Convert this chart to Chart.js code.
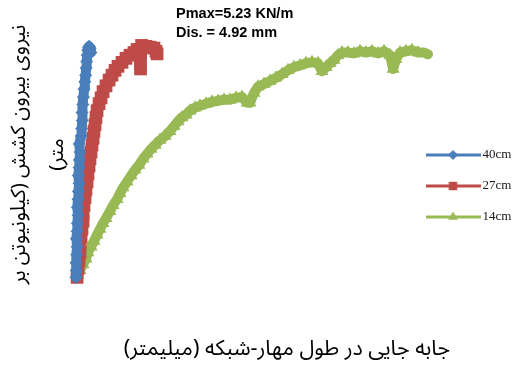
<!DOCTYPE html>
<html>
<head>
<meta charset="utf-8">
<script src="https://cdn.jsdelivr.net/npm/chart.js@4/dist/chart.umd.min.js"></script>
<style>
  html, body { margin: 0; padding: 0; background: #ffffff; }
  #wrap { width: 515px; height: 367px; }
</style>
</head>
<body>
<div id="wrap"><canvas id="c" width="515" height="367"></canvas></div>
<script>
// Pull-out test: displacement (mm) vs pull-out force (kN/m) for three anchorage lengths
const seriesNames = ['40cm', '27cm', '14cm'];

const disp40 = [0.00, 0.02, 0.00, 0.05, 0.08, 0.03, 0.08, 0.10, 0.15, 0.10, 0.15, 0.18, 0.23, 0.17, 0.23, 0.25, 0.30, 0.24, 0.38, 0.42, 0.47, 0.45, 0.52, 0.56, 0.60, 0.66, 0.72, 0.76, 0.80, 0.84, 0.88, 0.93, 0.98, 1.06, 1.12];
const load40 = [0.01, 0.17, 0.34, 0.52, 0.70, 0.88, 1.05, 1.23, 1.41, 1.59, 1.77, 1.94, 2.12, 2.30, 2.48, 2.65, 2.83, 3.01, 3.19, 3.36, 3.54, 3.72, 3.90, 4.07, 4.25, 4.41, 4.56, 4.72, 4.87, 5.01, 5.12, 5.18, 5.21, 5.16, 5.07];

const disp27 = [0.08, 0.15, 0.23, 0.30, 0.30, 0.38, 0.45, 0.53, 0.53, 0.60, 0.68, 0.75, 0.83, 0.90, 0.98, 1.05, 1.13, 1.20, 1.28, 1.35, 1.43, 1.50, 1.58, 1.73, 1.88, 2.03, 2.25, 2.48, 2.70, 2.93, 3.15, 3.45, 3.75, 4.05, 4.35, 4.58, 4.73, 4.84, 4.92, 5.25, 5.55, 5.85, 6.00, 6.08];
const load27 = [0.01, 0.21, 0.39, 0.57, 0.74, 0.92, 1.10, 1.28, 1.45, 1.63, 1.81, 1.99, 2.16, 2.34, 2.52, 2.68, 2.83, 2.99, 3.14, 3.30, 3.45, 3.61, 3.76, 3.92, 4.05, 4.19, 4.32, 4.45, 4.56, 4.67, 4.76, 4.85, 4.94, 5.01, 5.07, 5.14, 5.12, 4.70, 5.23, 5.21, 5.19, 5.17, 5.10, 5.04];

const disp14 = [0.15, 0.30, 0.53, 0.75, 0.90, 1.13, 1.35, 1.58, 1.80, 2.03, 2.25, 2.55, 2.78, 3.08, 3.30, 3.53, 3.83, 4.13, 4.43, 4.73, 5.03, 5.33, 5.63, 5.93, 6.30, 6.68, 7.05, 7.35, 7.65, 7.95, 8.25, 8.55, 8.93, 9.30, 9.75, 10.20, 10.65, 11.10, 11.55, 12.00, 12.45, 12.83, 13.05, 13.35, 13.65, 14.10, 14.55, 15.00, 15.45, 15.90, 16.35, 16.80, 17.25, 17.70, 18.15, 18.45, 18.75, 19.05, 19.35, 19.65, 19.95, 20.40, 20.85, 21.30, 21.75, 22.20, 22.65, 23.10, 23.55, 23.78, 24.00, 24.30, 24.75, 25.20, 25.65, 26.10, 26.40];
const load14 = [0.06, 0.17, 0.30, 0.43, 0.57, 0.70, 0.83, 0.97, 1.10, 1.23, 1.34, 1.50, 1.63, 1.77, 1.90, 2.03, 2.16, 2.30, 2.43, 2.54, 2.68, 2.79, 2.90, 2.99, 3.10, 3.19, 3.30, 3.41, 3.52, 3.61, 3.67, 3.76, 3.83, 3.87, 3.92, 3.96, 3.98, 4.01, 4.01, 4.05, 4.07, 3.94, 3.94, 4.16, 4.30, 4.36, 4.43, 4.50, 4.58, 4.67, 4.74, 4.78, 4.83, 4.85, 4.83, 4.65, 4.74, 4.83, 4.90, 5.01, 5.07, 5.07, 5.05, 5.10, 5.07, 5.10, 5.05, 5.10, 5.01, 4.70, 4.92, 5.07, 5.10, 5.12, 5.07, 5.07, 5.03];

// Hidden axis ranges
const xRange = [0.225, 25.2];
const yRange = [-0.5, 6.05];

const seriesColors = ['#4a7ebb', '#be4b48', '#98b954'];
const seriesMarkers = ['rectRot', 'rect', 'triangle'];
const markerSizes = [6.5, 9, 7.5];
const lineWidths = [10, 12, 10];

const RLM = '\u200F';
const yTitleLines = ['نیروی بیرون کشش (کیلونیوتن بر', 'متر)' + RLM];
const xTitleText = 'جابه جایی در طول مهار-شبکه (میلیمتر)' + RLM;
const peakNote = ['Pmax=5.23 KN/m', 'Dis. = 4.92 mm'];

const persianFont = "'Noto Sans Arabic', 'DejaVu Sans', sans-serif";

function toPoints(xs, ys) {
  return xs.map((x, i) => ({ x: x, y: ys[i] }));
}

// Legend swatch: short line with the series marker in the middle
function legendSwatch(color, shape, radius) {
  const c = document.createElement('canvas');
  c.width = 55; c.height = 16;
  const g = c.getContext('2d');
  g.strokeStyle = color;
  g.fillStyle = color;
  g.lineWidth = 3;
  g.beginPath(); g.moveTo(0, 8); g.lineTo(55, 8); g.stroke();
  Chart.helpers.drawPoint(g, { pointStyle: shape, radius: radius, borderWidth: 0 }, 27.5, 8);
  return c;
}

const datasets = [
  [disp40, load40], [disp27, load27], [disp14, load14]
].map(([xs, ys], i) => ({
  label: seriesNames[i],
  data: toPoints(xs, ys),
  borderColor: seriesColors[i],
  backgroundColor: seriesColors[i],
  borderWidth: lineWidths[i],
  borderJoinStyle: 'round',
  borderCapStyle: 'round',
  pointStyle: seriesMarkers[i],
  pointRadius: markerSizes[i],
  pointBorderWidth: 0,
  pointBackgroundColor: seriesColors[i],
  tension: 0,
  clip: false
}));

const swatches = seriesColors.map((c, i) => legendSwatch(c, seriesMarkers[i], [5, 6, 5.5][i]));

// Free text: peak note and horizontal axis title
const noteText = {
  id: 'noteText',
  afterDraw(chart) {
    const ctx = chart.ctx;
    ctx.save();
    ctx.fillStyle = '#000000';
    ctx.textBaseline = 'middle';
    ctx.textAlign = 'left';
    ctx.font = "bold 14.5px 'Liberation Sans', Arial, sans-serif";
    ctx.fillText(peakNote[0], 176, 14);
    ctx.fillText(peakNote[1], 176, 33);
    ctx.textAlign = 'center';
    ctx.font = '21.5px ' + persianFont;
    ctx.fillText(xTitleText, 287, 352);
    ctx.restore();
  }
};

new Chart(document.getElementById('c'), {
  type: 'line',
  data: { datasets: datasets },
  plugins: [noteText],
  options: {
    responsive: false,
    animation: false,
    devicePixelRatio: 1,
    layout: { padding: { top: 5, left: 0, right: 0, bottom: 0 } },
    scales: {
      x: {
        type: 'linear',
        bounds: 'data',
        ticks: { display: false },
        grid: { display: false, drawTicks: false },
        border: { display: false },
        afterDataLimits(scale) { scale.min = xRange[0]; scale.max = xRange[1]; },
        afterFit(scale) { scale.height = 67; }
      },
      y: {
        min: yRange[0],
        max: yRange[1],
        ticks: { display: false },
        grid: { display: false, drawTicks: false },
        border: { display: false },
        title: {
          display: true,
          text: yTitleLines,
          color: '#000000',
          font: { family: persianFont, size: 20.5, lineHeight: '38px' },
          padding: { top: 3, bottom: 0 }
        }
      }
    },
    plugins: {
      legend: {
        position: 'right',
        align: 'center',
        maxWidth: 103,
        labels: {
          usePointStyle: true,
          pointStyleWidth: 46,
          padding: 18,
          color: '#1a1a1a',
          font: { family: "'Liberation Serif', 'Times New Roman', serif", size: 13 },
          generateLabels(chart) {
            const items = Chart.defaults.plugins.legend.labels.generateLabels(chart);
            items.forEach((it, i) => { it.pointStyle = swatches[i]; });
            return items;
          }
        }
      },
      tooltip: { enabled: false }
    }
  }
});
</script>
</body>
</html>
